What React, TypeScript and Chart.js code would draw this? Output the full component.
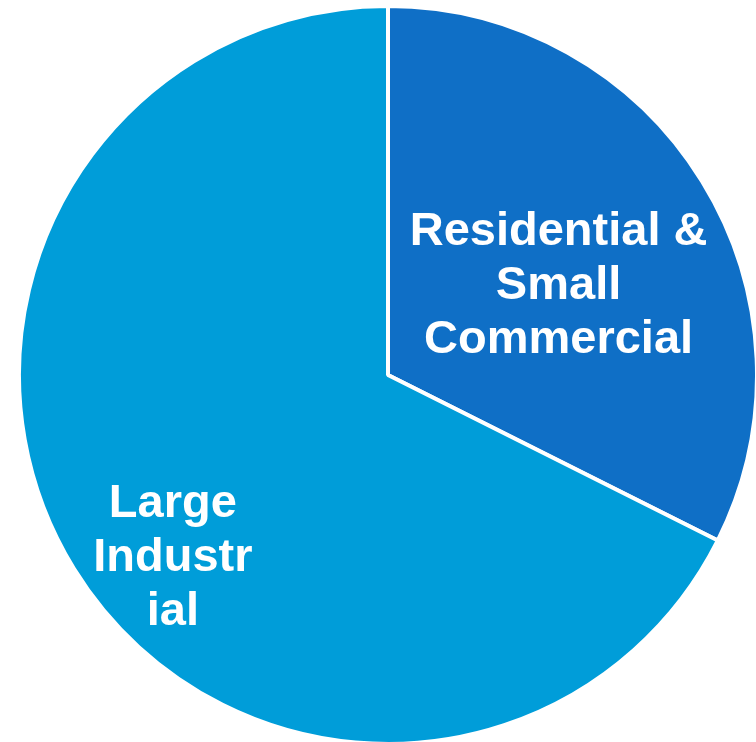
import React, { useEffect, useRef } from "react";
import { Chart, registerables } from "chart.js";

Chart.register(...registerables);

const categories: string[] = ["Residential & Small Commercial", "Large Industrial"];
const values: number[] = [32.4, 67.6];
const labelLines: string[][] = [
  ["Residential &", "Small", "Commercial"],
  ["Large", "Industr", "ial"],
];
const colors: string[] = ["#0F6FC6", "#009DD9"];
// label placement (angle in degrees from +x axis, distance as fraction of radius)
const labelPolar: { angle: number; dist: number }[] = [
  { angle: -28.3, dist: 0.525 },
  { angle: 140.1, dist: 0.76 },
];

const sliceLabels = {
  id: "sliceLabels",
  afterDatasetsDraw(chart: any) {
    const ctx = chart.ctx;
    const meta = chart.getDatasetMeta(0);
    ctx.save();
    ctx.fillStyle = "#FFFFFF";
    ctx.font = "bold 47px 'Liberation Sans', Arial, sans-serif";
    ctx.textAlign = "center";
    ctx.textBaseline = "alphabetic";
    const lh = 54;
    meta.data.forEach((arc: any, i: number) => {
      const p = labelPolar[i];
      const r = arc.outerRadius;
      const a = (p.angle * Math.PI) / 180;
      const cx = arc.x + Math.cos(a) * r * p.dist;
      const cy = arc.y + Math.sin(a) * r * p.dist;
      const lines = labelLines[i];
      const n = lines.length;
      lines.forEach((line, j) => {
        const y = cy + 16 + (j - (n - 1) / 2) * lh;
        ctx.fillText(line, cx, y);
      });
    });
    ctx.restore();
  },
};

export default function App() {
  const ref = useRef<HTMLCanvasElement | null>(null);
  useEffect(() => {
    if (!ref.current) return;
    const chart = new Chart(ref.current, {
      type: "pie",
      data: {
        labels: categories,
        datasets: [
          {
            data: values,
            backgroundColor: colors,
            borderColor: "#FFFFFF",
            borderWidth: 4,
          },
        ],
      },
      options: {
        animation: false,
        responsive: true,
        maintainAspectRatio: false,
        layout: { padding: { left: 17, right: 1, top: 4, bottom: 4 } },
        plugins: {
          legend: { display: false },
          tooltip: { enabled: false },
        },
      },
      plugins: [sliceLabels],
    });
    return () => chart.destroy();
  }, []);
  return (
    <div style={{ position: "absolute", left: 0, top: 0, width: 756, height: 742, overflow: "hidden", background: "#FFFFFF" }}>
      <div style={{ position: "relative", width: 760, height: 750 }}>
        <canvas ref={ref} />
      </div>
    </div>
  );
}
